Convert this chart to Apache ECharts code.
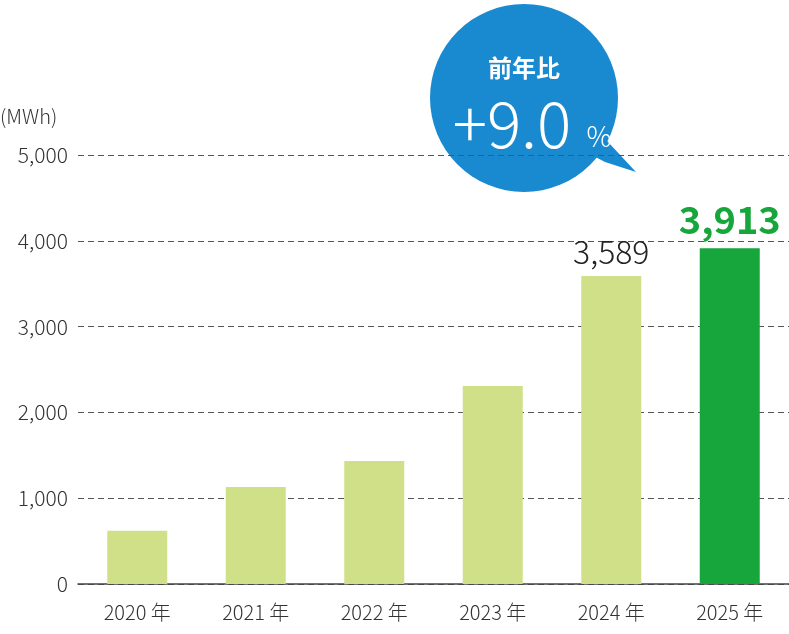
<!DOCTYPE html><html><head><meta charset="utf-8"><script src="https://cdn.jsdelivr.net/npm/echarts@6/dist/echarts.min.js"></script></head><body style="margin:0"><div id="c" style="width:789px;height:634px"></div><script>
const categories=['2020 年','2021 年','2022 年','2023 年','2024 年','2025 年'];
const values=[620,1130,1434,2308,3589,3913];
const yTicks=[0,1000,2000,3000,4000,5000];
const light='#cfe088',dark='#17a63c';
const chart=echarts.init(document.getElementById('c'));
const f='"Noto Sans CJK JP","Noto Sans",sans-serif';
chart.setOption({
 animation:false,
 grid:{left:78,right:0,top:155,bottom:50},
 xAxis:{type:'category',data:categories,axisTick:{show:false},axisLine:{lineStyle:{color:'#444',width:1.5}},
  axisLabel:{color:'#333',fontSize:20,fontWeight:300,fontFamily:f,margin:18}},
 yAxis:{type:'value',min:0,max:5000,interval:1000,axisLine:{show:false},axisTick:{show:false},
  axisLabel:{color:'#333',fontSize:21,fontWeight:300,fontFamily:f,margin:10,formatter:v=>v.toLocaleString('en-US')},
  splitLine:{lineStyle:{color:'#555',type:[6,4]}}},
 series:[{type:'bar',barWidth:60,data:values.map((v,i)=>({value:v,itemStyle:{color:i===5?dark:light},
  label:i===4?{show:true,position:'top',color:'#222',fontSize:32,fontWeight:300,fontFamily:f,distance:8,formatter:p=>p.value.toLocaleString('en-US')}:
   i===5?{show:true,position:'top',color:dark,fontSize:38,fontWeight:'bold',fontFamily:f,distance:10,formatter:p=>p.value.toLocaleString('en-US')}:{show:false}}))}],
 graphic:[
  {type:'text',left:0,top:106,style:{text:'(MWh)',fill:'#333',fontSize:20,fontWeight:300,fontFamily:f}},
  {type:'polygon',shape:{points:[[595,128],[636,172],[605,162],[582,150]]},style:{fill:'#1a8ad0'}},
  {type:'circle',shape:{cx:524,cy:98,r:94},style:{fill:'#1a8ad0'}},
  {type:'text',x:524,y:68,style:{text:'前年比',fill:'#fff',fontSize:24,fontWeight:'bold',fontFamily:f,align:'center',verticalAlign:'middle'}},
  {type:'text',x:512,y:124,style:{text:'+9.0',fill:'#fff',fontSize:64,fontWeight:300,fontFamily:f,align:'center',verticalAlign:'middle'}},
  {type:'text',x:599,y:136,style:{text:'%',fill:'#fff',fontSize:28,fontWeight:300,fontFamily:f,align:'center',verticalAlign:'middle'}}
 ]
});
</script></body></html>
